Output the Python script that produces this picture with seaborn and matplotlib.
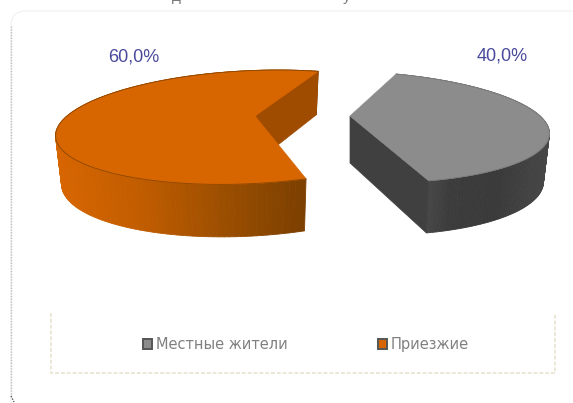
import numpy as np
import pandas as pd
import matplotlib
matplotlib.use("Agg")
import matplotlib.pyplot as plt
from matplotlib.patches import FancyBboxPatch, Rectangle
import seaborn as sns

labels = ["Местные жители", "Приезжие"]
shares = [40.0, 60.0]
pct_text = ["40,0%", "60,0%"]

sns.set_theme(style="white")
plt.rcParams["font.family"] = ["Liberation Sans", "DejaVu Sans"]

df = pd.DataFrame({"label": labels, "share": shares, "text": pct_text})

# placement of each exploded slice, in pixels
layout = {
    "Местные жители": dict(apex=(350, 116), start=283, a=190, d=53.8, shear=0.4,
                           top="#8c8c8c", wall="#404040",
                           side=["#5a5a5a", "#3c3c3c", "#3a3a3a", "#474747"],
                           edge="#7a7a7a", text_at=(502, 56)),
    "Приезжие": dict(apex=(255, 116), start=75, a=188, d=55, shear=-0.5,
                     top="#d76500", wall="#a04c00",
                     side=["#d76500", "#c05c00", "#9a4e00", "#7a3f00"],
                     edge="#8a4600", text_at=(134, 57)),
}
G = 0.196


def project(t, s):
    sn, cs = np.sin(t), np.cos(t)
    w = 1 + G * sn
    y = -s["d"] * sn / w
    x = s["a"] * cs / w + s["shear"] * y
    return x, y


def drop(x, y, s):
    # bottom ring sits lower and a little narrower
    return s["apex"][0] + x * 0.97, s["apex"][1] + y + 47 + 0.08 * y


fig = plt.figure(figsize=(5.73, 4.03), dpi=100)
ax = fig.add_axes([0, 0, 1, 1])
ax.set_xlim(0, 573)
ax.set_ylim(403, 0)
ax.axis("off")

# chart frame
ax.add_patch(FancyBboxPatch((11, 11), 640, 500, boxstyle="round,pad=0,rounding_size=15",
                            fc="white", ec="#f0f0f0", lw=0.8))
ax.plot([11, 11], [26, 396], color="#bdbdbd", lw=1, ls=(0, (1, 1)))
ax.plot([11, 14], [396, 402], color="#555555", lw=1, ls=(0, (1, 1)))

# cut-off title line at the very top
ax.text(176, 1, "д", color="#777777", fontsize=11, ha="center", va="baseline")
ax.text(347, 1, "у", color="#777777", fontsize=11, ha="center", va="baseline")

for _, row in df.iterrows():
    s = layout[row["label"]]
    ax_x, ax_y = s["apex"]
    t0 = np.radians(s["start"])
    t = np.linspace(t0, t0 + np.radians(row["share"] * 3.6), 160)
    x, y = project(t, s)
    px, py = ax_x + x, ax_y + y
    bx, by = drop(x, y, s)

    # outer side, shaded left to right
    pal = sns.blend_palette(s["side"], 100)
    for i in range(len(t) - 1):
        k = int(np.clip((px[i] - px.min()) / (px.max() - px.min()) * 99, 0, 99))
        if px.min() < ax_x - 100:
            k = int(np.clip((px[i] - px.min()) / (px[-1] - px.min()) * 99, 0, 99))
        ax.fill([px[i], px[i + 1], bx[i + 1], bx[i]], [py[i], py[i + 1], by[i + 1], by[i]],
                color=pal[k], lw=0.6, zorder=2)

    # cut wall that faces the viewer
    ab = drop(0, 0, s)
    ax.fill([ax_x, px[0], bx[0], ab[0]], [ax_y, py[0], by[0], ab[1]],
            color=s["wall"], lw=0.5, zorder=3)

    # top face
    ax.fill(np.r_[ax_x, px], np.r_[ax_y, py], color=s["top"], lw=0.5, zorder=4)
    ax.plot(px, py, color=s["edge"], lw=0.6, zorder=5)

    ax.text(*s["text_at"], row["text"], color="#4a4a9c", fontsize=13,
            ha="center", va="center", zorder=6)

# legend box
ax.plot([51, 51, 555, 555], [313, 373, 373, 313], color="#ece7d6", lw=1.4, ls=(0, (2, 1)))
legend_x = {"Местные жители": 147, "Приезжие": 382}
for name in labels:
    lx = legend_x[name]
    ax.add_patch(Rectangle((lx - 4, 339), 9, 10, fc=layout[name]["top"], ec="#555555", lw=1.4))
    ax.text(lx + 9, 344.5, name, color="#808080", fontsize=10.5, ha="left", va="center",
            family=["DejaVu Sans"])

fig.savefig("out.png", dpi=100)
